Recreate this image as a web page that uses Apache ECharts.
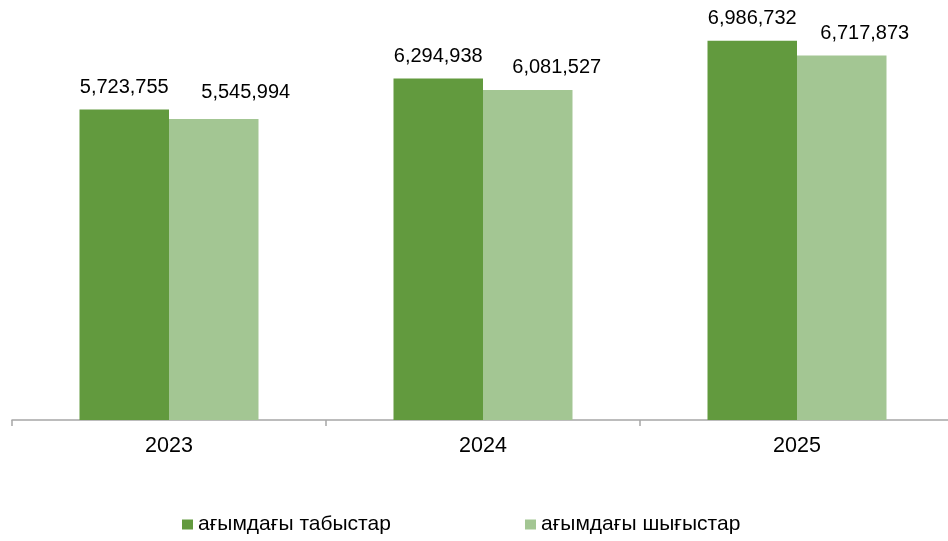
<!DOCTYPE html>
<html>
<head>
<meta charset="utf-8">
<script src="https://cdn.jsdelivr.net/npm/echarts@6/dist/echarts.min.js"></script>
<style>
html,body{margin:0;padding:0;background:#fff;}
#chart{width:948px;height:541px;}
</style>
</head>
<body>
<div id="chart"></div>
<script>
const categories = ['2023', '2024', '2025'];
const seriesNames = ['ағымдағы табыстар', 'ағымдағы шығыстар'];
const incomeValues = [5723755, 6294938, 6986732];
const expenseValues = [5545994, 6081527, 6717873];

const chart = echarts.init(document.getElementById('chart'));
const fontFamily = 'Arial, "Liberation Sans", sans-serif';
const fmt = p => p.value.toLocaleString('en-US');

const lightOffsets = [[32, -5], [29, 0], [23, 0]];
const legendBase = {
  top: 514, padding: 0, itemWidth: 11, itemHeight: 10, icon: 'rect',
  textStyle: { fontFamily, fontSize: 21, color: '#000' }
};

chart.setOption({
  animation: false,
  backgroundColor: '#ffffff',
  grid: { left: 12, width: 942, top: 13, bottom: 121, containLabel: false, outerBoundsMode: 'none' },
  legend: [
    Object.assign({ left: 182, data: [seriesNames[0]] }, legendBase),
    Object.assign({ left: 525, data: [seriesNames[1]] }, legendBase)
  ],
  xAxis: {
    type: 'category',
    data: categories,
    axisLine: { lineStyle: { color: '#A6A6A6', width: 1.5 } },
    axisTick: { show: true, length: 6, lineStyle: { color: '#A6A6A6', width: 1.5 } },
    axisLabel: { color: '#000', fontFamily, fontSize: 21.5, margin: 15 }
  },
  yAxis: {
    type: 'value', min: 0, max: 7500000, show: false,
    splitLine: { show: false }
  },
  series: [
    {
      name: seriesNames[0], type: 'bar', data: incomeValues,
      barWidth: 89.5, barGap: '0%',
      itemStyle: { color: '#629A3E' },
      label: { show: true, position: 'top', distance: 12, color: '#000', fontFamily, fontSize: 20, formatter: fmt }
    },
    {
      name: seriesNames[1], type: 'bar',
      data: expenseValues.map((v, i) => ({ value: v, label: { offset: lightOffsets[i] } })),
      barWidth: 89.5, barGap: '0%',
      itemStyle: { color: '#A3C693' },
      label: { show: true, position: 'top', distance: 12, color: '#000', fontFamily, fontSize: 20, formatter: fmt }
    }
  ]
});
</script>
</body>
</html>
